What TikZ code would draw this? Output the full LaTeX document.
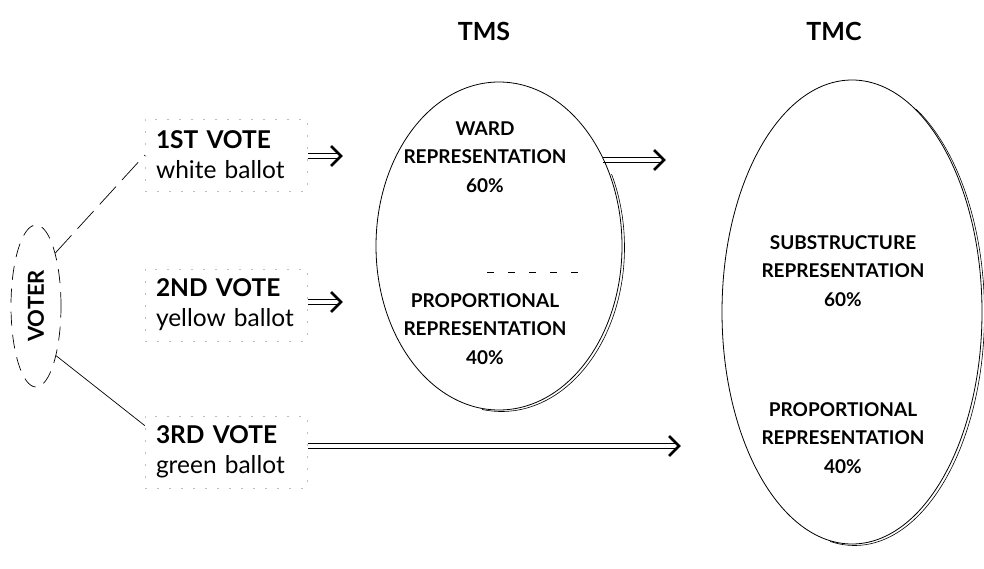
\documentclass[tikz,border=0pt]{standalone}
\usepackage{fontspec}
\setmainfont{Lato}
\usetikzlibrary{shapes.geometric,arrows.meta}
\begin{document}
\begin{tikzpicture}[x=1pt,y=-1pt,
  lbl/.style={font=\fontsize{19}{28.5}\selectfont\bfseries, align=center, inner sep=0},
  title/.style={font=\fontsize{25}{28}\selectfont\bfseries, inner sep=0},
  votebox/.style={draw=gray!50, line width=0.4pt, dash pattern=on 2pt off 10pt, minimum width=162, minimum height=72, align=left, inner xsep=11pt, inner ysep=0pt, text width=140,
     font=\fontsize{24.5}{30}\selectfont},
  shaftline/.style={line width=1.1pt},
  chev/.style={line width=2.6pt, miter limit=4},
  oval/.style={ellipse, draw, line width=0.8pt, inner sep=0}
]
\useasboundingbox (0,0) rectangle (984,569);
% titles
\node[title] (tms) at (484,31) {TMS};
\node[title] (tmc) at (834,31) {TMC};
% voter
\node[ellipse, draw, line width=0.7pt, dash pattern=on 14pt off 9pt, minimum width=50, minimum height=162, inner sep=0] (voter) at (36,306) {};
\node[font=\fontsize{22}{24}\selectfont\bfseries, rotate=90] (votertxt) at (36,306) {VOTER};
% vote boxes
\node[votebox] (b1) at (226,155) {\textbf{1ST VOTE}\\white ballot};
\node[votebox] (b2) at (226,305) {\textbf{2ND VOTE}\\yellow ballot};
\node[votebox] (b3) at (226,452) {\textbf{3RD VOTE}\\green ballot};
% connectors from voter
\draw[line width=0.7pt, dash pattern=on 24pt off 9pt] (voter.70) -- (b1.west);
\draw[line width=0.7pt] (voter.-68) -- (b3.162);
% TMS
\node[oval, minimum width=246, minimum height=328] (tmsov) at (499,246) {};
\begin{scope}
  \clip (482,175) rectangle (640,425);
  \draw[line width=0.6pt] (501.5,247.5) ellipse[x radius=123, y radius=164];
\end{scope}
\draw[line width=0.6pt, dash pattern=on 7pt off 14pt] (487,272) -- (590,272);
\node[lbl] (ward) at (485,157) {WARD\\REPRESENTATION\\60\%};
\node[lbl] (prop1) at (485,329) {PROPORTIONAL\\REPRESENTATION\\40\%};
% TMC
\node[oval, minimum width=260, minimum height=464] (tmcov) at (852,312) {};
\begin{scope}
  \clip (830,110) rectangle (990,565);
  \draw[line width=0.6pt] (854.5,313.5) ellipse[x radius=130, y radius=232];
\end{scope}
\node[lbl] (sub) at (843,271) {SUBSTRUCTURE\\REPRESENTATION\\60\%};
\node[lbl] (prop2) at (843,438) {PROPORTIONAL\\REPRESENTATION\\40\%};
% arrows
\coordinate (a1) at (341,156);
\coordinate (a2) at (341,302);
\coordinate (a3) at (679,446);
\coordinate (a4) at (664,160);
\coordinate (s1) at (308,156);
\coordinate (s2) at (308,302);
\coordinate (s3) at (308,446);
\coordinate (s4) at (603,160);
\foreach \i in {1,2,3,4}{
  \draw[shaftline] ([yshift=2.2pt]s\i) -- ([xshift=-3pt,yshift=2.2pt]a\i);
  \draw[shaftline] ([yshift=-2.2pt]s\i) -- ([xshift=-3pt,yshift=-2.2pt]a\i);
  \draw[chev] ([xshift=-10pt,yshift=10pt]a\i) -- (a\i) -- ([xshift=-10pt,yshift=-10pt]a\i);
}
\end{tikzpicture}
\end{document}
